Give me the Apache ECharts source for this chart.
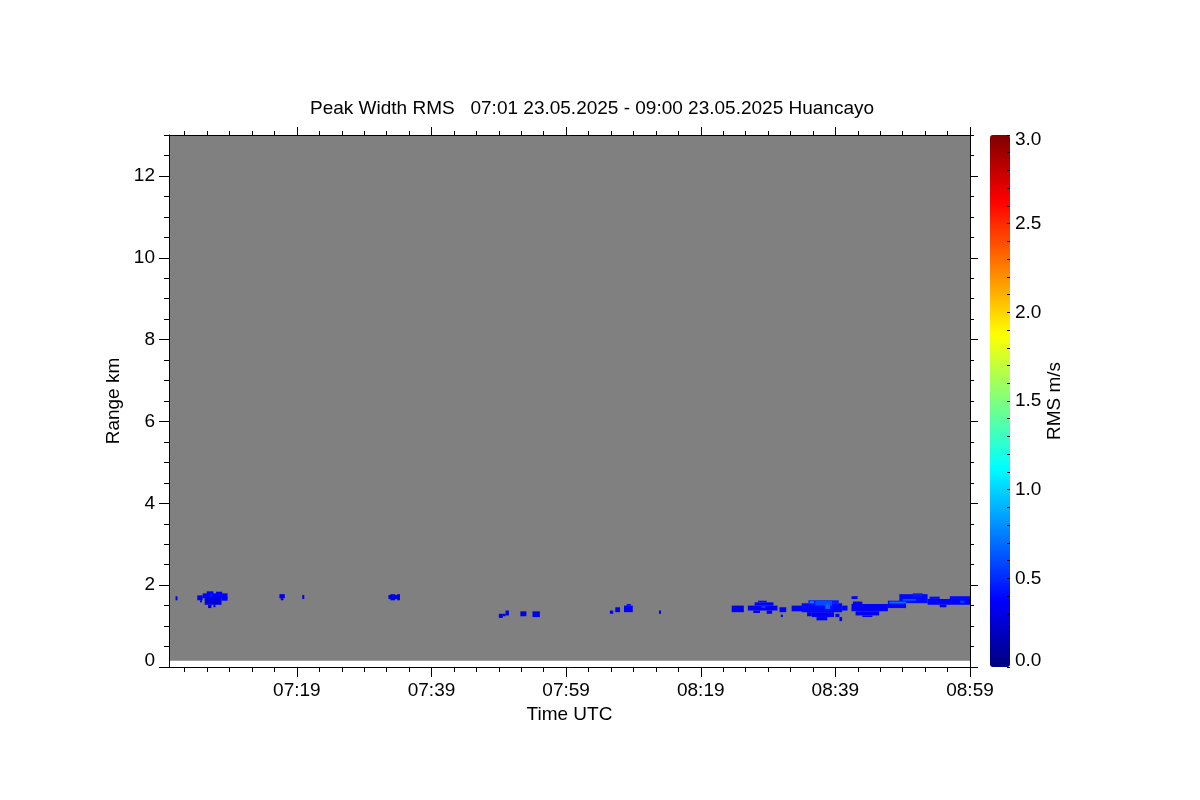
<!DOCTYPE html>
<html>
<head>
<meta charset="utf-8">
<script src="https://cdn.jsdelivr.net/npm/echarts@6/dist/echarts.min.js"></script>
<style>
html,body{margin:0;padding:0;background:#fff;}
#chart{width:1200px;height:800px;}
</style>
</head>
<body>
<div id="chart"></div>
<script>
// ---- Data (time in minutes after 07:00 UTC, range in km, RMS in m/s) ----
var titleText = 'Peak Width RMS   07:01 23.05.2025 - 09:00 23.05.2025 Huancayo';
var xTickValues = [19, 39, 59, 79, 99, 119];
var xTickLabels = ['07:19', '07:39', '07:59', '08:19', '08:39', '08:59'];
var yTickValues = [0, 2, 4, 6, 8, 10, 12];
var cbTickValues = [0, 0.5, 1.0, 1.5, 2.0, 2.5, 3.0];

// radar coverage (no-echo area drawn in grey): [tStart, tEnd, rBottom, rTop]
var coverage = [[0, 119, 0.15, 13]];

// echo cells: [tStart, tEnd, rBottom, rTop, rms]
var echoesEarly = [
  [0.97, 1.26, 1.63, 1.73, 0.35],
  [4.2, 5.0, 1.63, 1.75, 0.36],
  [5.0, 8.7, 1.68, 1.80, 0.38],
  [5.6, 6.6, 1.78, 1.85, 0.38],
  [7.0, 7.9, 1.78, 1.84, 0.36],
  [5.3, 7.8, 1.52, 1.70, 0.27],
  [5.8, 6.3, 1.44, 1.52, 0.27],
  [6.6, 6.9, 1.46, 1.52, 0.30],
  [7.8, 8.7, 1.62, 1.70, 0.35],
  [4.6, 4.9, 1.58, 1.63, 0.33],
  [6.1, 6.5, 1.72, 1.78, 0.45],
  [16.4, 17.2, 1.68, 1.78, 0.33],
  [16.6, 17.0, 1.63, 1.68, 0.33],
  [19.8, 20.1, 1.66, 1.76, 0.35],
  [32.6, 34.3, 1.66, 1.76, 0.33],
  [32.9, 33.6, 1.63, 1.78, 0.33],
  [33.9, 34.3, 1.63, 1.78, 0.33]
];
var echoesMid = [
  [49.0, 49.6, 1.20, 1.30, 0.30],
  [49.6, 50.0, 1.24, 1.30, 0.30],
  [50.0, 50.5, 1.26, 1.38, 0.30],
  [52.2, 53.1, 1.24, 1.36, 0.30],
  [54.0, 55.1, 1.22, 1.36, 0.32],
  [65.5, 66.0, 1.30, 1.38, 0.33],
  [66.3, 67.0, 1.34, 1.46, 0.33],
  [67.6, 68.9, 1.34, 1.50, 0.35],
  [68.0, 68.6, 1.50, 1.54, 0.38],
  [72.8, 73.1, 1.30, 1.38, 0.33]
];
var echoesLate = [
  [83.6, 85.4, 1.34, 1.50, 0.33],
  [86.0, 90.4, 1.38, 1.50, 0.36],
  [87.0, 89.8, 1.50, 1.58, 0.38],
  [87.5, 88.8, 1.58, 1.62, 0.40],
  [86.8, 87.8, 1.32, 1.38, 0.35],
  [88.8, 89.6, 1.30, 1.38, 0.35],
  [88.0, 88.6, 1.44, 1.50, 0.55],
  [90.7, 91.7, 1.34, 1.46, 0.36],
  [90.9, 91.2, 1.22, 1.28, 0.33],
  [92.5, 94.5, 1.36, 1.50, 0.38],
  [94.0, 100.0, 1.34, 1.56, 0.40],
  [95.0, 99.5, 1.56, 1.63, 0.45],
  [96.0, 98.5, 1.50, 1.62, 0.60],
  [97.5, 98.2, 1.42, 1.52, 0.70],
  [95.2, 95.8, 1.56, 1.61, 0.75],
  [95.5, 98.8, 1.22, 1.34, 0.35],
  [96.2, 97.8, 1.14, 1.22, 0.33],
  [94.8, 95.5, 1.24, 1.34, 0.33],
  [99.0, 99.6, 1.22, 1.30, 0.33],
  [99.6, 100.0, 1.12, 1.22, 0.33],
  [100.0, 100.8, 1.38, 1.50, 0.38],
  [101.4, 102.3, 1.66, 1.73, 0.38],
  [101.4, 106.8, 1.36, 1.54, 0.36],
  [102.0, 105.5, 1.26, 1.36, 0.33],
  [103.0, 104.5, 1.22, 1.26, 0.33],
  [101.6, 103.0, 1.54, 1.60, 0.38],
  [106.8, 109.5, 1.44, 1.62, 0.40],
  [108.5, 112.7, 1.56, 1.78, 0.40],
  [107.0, 109.5, 1.55, 1.60, 0.70],
  [109.0, 111.0, 1.62, 1.66, 0.65],
  [110.5, 112.0, 1.72, 1.80, 0.45],
  [112.7, 119.0, 1.52, 1.66, 0.38],
  [113.0, 114.5, 1.66, 1.72, 0.42],
  [116.0, 119.0, 1.66, 1.73, 0.40],
  [114.5, 115.5, 1.46, 1.52, 0.35],
  [117.5, 118.2, 1.56, 1.62, 0.55]
];
var echoes = echoesEarly.concat(echoesMid, echoesLate);

// ---- minor tick positions ----
function minorTicks(majors, lo, hi, n) {
  var step = (majors[1] - majors[0]) / n, out = [];
  for (var v = majors[0]; v >= lo - 1e-9; v -= step) out.push(+v.toFixed(4));
  for (var w = majors[0] + step; w <= hi + 1e-9; w += step) out.push(+w.toFixed(4));
  return out.sort(function (a, b) { return a - b; });
}
var xMinor = minorTicks(xTickValues, 0, 119, 6);
var yMinor = minorTicks(yTickValues, 0, 13, 4);
var cbMinor = minorTicks(cbTickValues, 0, 3, 5);

var FONT = 'Liberation Sans';
var black = '#000';

function rectItem(params, api) {
  var p0 = api.coord([api.value(0), api.value(3)]);
  var p1 = api.coord([api.value(1), api.value(2)]);
  return {
    type: 'rect',
    shape: { x: p0[0], y: p0[1], width: p1[0] - p0[0], height: p1[1] - p0[1] },
    style: { fill: api.visual('color') }
  };
}

function tickAxis(extra) {
  var base = {
    gridIndex: 0, type: 'value', min: 0, max: 119, z: 10,
    axisLine: { show: false, onZero: false, lineStyle: { color: black, width: 1 } },
    axisTick: { show: true, inside: false, length: 5, lineStyle: { color: black, width: 1 } },
    axisLabel: { show: false },
    splitLine: { show: false }
  };
  return echarts.util.merge(base, extra, true);
}

var chart = echarts.init(document.getElementById('chart'), null, { renderer: 'canvas' });
var option = {
  backgroundColor: '#fff',
  animation: false,
  title: {
    text: titleText, left: 305, top: 94,
    textStyle: { fontFamily: FONT, fontSize: 19, fontWeight: 'normal', color: black }
  },
  grid: [
    { left: 169, right: 230, top: 135, bottom: 133, containLabel: false },
    { left: 990, top: 135, width: 20, height: 532, containLabel: false }
  ],
  xAxis: [
    tickAxis({
      position: 'bottom',
      axisLine: { show: true },
      axisTick: { length: 10, customValues: xTickValues },
      axisLabel: {
        show: true, customValues: xTickValues, margin: 14,
        fontFamily: FONT, fontSize: 19, color: black,
        formatter: function (v) { var i = xTickValues.indexOf(v); return i >= 0 ? xTickLabels[i] : ''; }
      },
      name: 'Time UTC', nameLocation: 'middle', nameGap: 29,
      nameTextStyle: { fontFamily: FONT, fontSize: 19, color: black }
    }),
    tickAxis({ position: 'bottom', axisTick: { customValues: xMinor } }),
    tickAxis({ position: 'top', axisLine: { show: true }, axisTick: { length: 8, customValues: xTickValues } }),
    tickAxis({ position: 'top', axisTick: { length: 4, customValues: xMinor } }),
    { gridIndex: 1, type: 'value', min: 0, max: 1, show: false }
  ],
  yAxis: [
    tickAxis({
      min: 0, max: 13, position: 'left',
      axisLine: { show: true },
      axisTick: { length: 10, customValues: yTickValues },
      axisLabel: {
        show: true, customValues: yTickValues, margin: 14,
        fontFamily: FONT, fontSize: 19, color: black,
        formatter: function (v) { return v === 0 ? '{lo|0}' : String(v); },
        rich: { lo: { fontFamily: FONT, fontSize: 19, color: black, padding: [0, 0, 12, 0] } }
      },
      name: 'Range km', nameLocation: 'middle', nameGap: 42, nameRotate: 90,
      nameTextStyle: { fontFamily: FONT, fontSize: 19, color: black }
    }),
    tickAxis({ min: 0, max: 13, position: 'left', axisTick: { customValues: yMinor } }),
    tickAxis({ min: 0, max: 13, position: 'right', axisLine: { show: true }, axisTick: { length: 8, customValues: yTickValues } }),
    tickAxis({ min: 0, max: 13, position: 'right', axisTick: { length: 4, customValues: yMinor } }),
    {
      gridIndex: 1, type: 'value', min: 0, max: 3, position: 'right', z: 10,
      axisLine: { show: false, onZero: false },
      axisTick: { show: true, inside: true, length: 3, customValues: cbMinor, lineStyle: { color: black } },
      axisLabel: {
        show: true, customValues: cbTickValues, margin: 5,
        fontFamily: FONT, fontSize: 19, color: black,
        formatter: function (v) {
          var s = v.toFixed(1);
          if (v === 0) return '{lo|' + s + '}';
          if (v === 3) return '{hi|' + s + '}';
          return s;
        },
        rich: {
          lo: { fontFamily: FONT, fontSize: 19, color: black, padding: [0, 0, 12, 0] },
          hi: { fontFamily: FONT, fontSize: 19, color: black, padding: [10, 0, 0, 0] }
        }
      },
      splitLine: { show: false },
      name: 'RMS m/s', nameLocation: 'middle', nameGap: 34, nameRotate: 90,
      nameTextStyle: { fontFamily: FONT, fontSize: 19, color: black }
    }
  ],
  visualMap: {
    type: 'continuous', seriesIndex: 1, dimension: 4, min: 0, max: 3,
    calculable: false, hoverLink: false, realtime: false,
    left: 990, top: 135, itemWidth: 20, itemHeight: 532, padding: 0,
    text: null, showLabel: false,
    inRange: { color: ['#00007f', '#0000ff', '#007fff', '#00ffff', '#7fff7f', '#ffff00', '#ff7f00', '#ff0000', '#7f0000'] }
  },
  series: [
    {
      name: 'coverage', type: 'custom', xAxisIndex: 0, yAxisIndex: 0,
      renderItem: rectItem, clip: true, silent: true, z: 1,
      itemStyle: { color: '#808080' },
      encode: { x: [0, 1], y: [2, 3] },
      data: coverage
    },
    {
      name: 'Peak Width RMS', type: 'custom', xAxisIndex: 0, yAxisIndex: 0,
      renderItem: rectItem, clip: true, silent: true, z: 2,
      encode: { x: [0, 1], y: [2, 3] },
      data: echoes
    }
  ]
};
chart.setOption(option);
</script>
</body>
</html>
